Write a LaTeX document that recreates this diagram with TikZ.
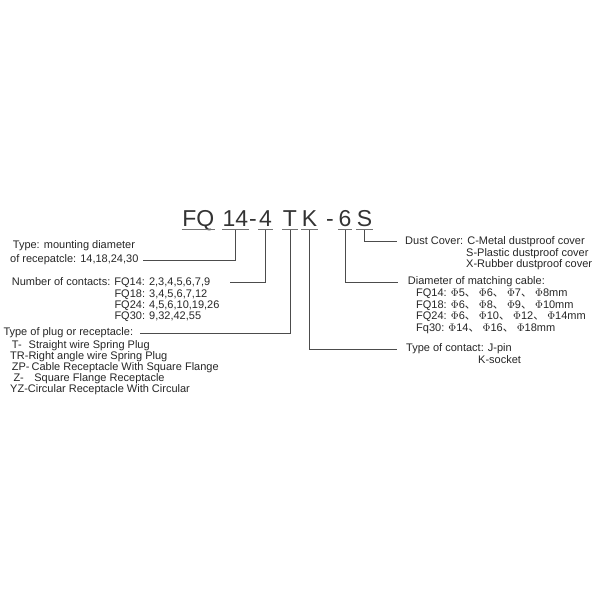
\documentclass[tikz,border=0pt]{standalone}
\usepackage{fontspec}
\setmainfont{Liberation Sans}
\newfontfamily\cjk{Noto Sans CJK SC}
\newcommand{\dunhao}{{\cjk 、}}

\begin{document}
\begin{tikzpicture}[x=1pt, y=-1pt,
		txt/.style={anchor=mid west, inner sep=0pt, text=black!85, font=\fontsize{11}{13}\selectfont},
		code/.style={anchor=base, inner xsep=0.5pt, inner ysep=0pt, text depth=2.6pt, text=black!80, font=\fontsize{23}{26}\selectfont},
		uline/.style={line width=0.6pt, draw=black!55},
		lead/.style={line width=0.6pt, draw=black!70}]
		%%%%% START %%%%%
		
		\useasboundingbox (0, 0) rectangle (600, 600);
		
		% the code
		\node[code] (fq) at (198.3, 226.7) {FQ};
		\node[code] (num) at (235.5, 226.7) {14};
		\node[code] (dasha) at (253, 226.7) {-};
		\node[code] (cnt) at (265.5, 226.7) {4};
		\node[code] (plug) at (290, 226.7) {T};
		\node[code] (pin) at (309.5, 226.7) {K};
		\node[code] (dashb) at (330, 226.7) {-};
		\node[code] (cab) at (345, 226.7) {6};
		\node[code] (cov) at (364.5, 226.7) {S};
		
		\draw[uline] (fq.south west) -- (fq.south east);
		\draw[uline] (num.south west) -- (num.south east);
		\draw[uline] (cnt.south west) -- (cnt.south east);
		\draw[uline] (plug.south west) -- (plug.south east);
		\draw[uline] (pin.south west) -- (pin.south east);
		\draw[uline] (cab.south west) -- (cab.south east);
		\draw[uline] (cov.south west) -- (cov.south east);
		
		% left side
		\node[txt] (mounta) at (12.7, 245.7) {Type: mounting diameter};
		\node[txt] (mount) at (10, 260) {of recepatcle: 14,18,24,30};
		
		\node[txt] (contacts) at (11.7, 282.5) {Number of contacts: FQ14: 2,3,4,5,6,7,9};
		\node[txt] (ctb) at (114.3, 294.5) {FQ18: 3,4,5,6,7,12};
		\node[txt] (ctc) at (114.3, 305.7) {FQ24: 4,5,6,10,19,26};
		\node[txt] (ctd) at (114.3, 316.7) {FQ30: 9,32,42,55};
		
		\node[txt] (plugtype) at (3.3, 332.8) {Type of plug or receptacle:};
		\node[txt] (pta) at (11.7, 345.7) {T-\hspace{7pt}Straight wire Spring Plug};
		\node[txt] (ptb) at (10, 357) {TR-Right angle wire Spring Plug};
		\node[txt] (ptc) at (11.7, 367.8) {ZP-\hspace{2pt}Cable Receptacle With Square Flange};
		\node[txt] (ptd) at (13.3, 378.7) {Z-\hspace{10.5pt}Square Flange Receptacle};
		\node[txt] (pte) at (10, 389.5) {YZ-Circular Receptacle With Circular};
		
		% right side
		\node[txt] (dust) at (405, 241.5) {Dust Cover: C-Metal dustproof cover};
		\node[txt] (dustb) at (466, 253.5) {S-Plastic dustproof cover};
		\node[txt] (dustc) at (466, 265) {X-Rubber dustproof cover};
		
		\node[txt] (cable) at (407.7, 282) {Diameter of matching cable:};
		\node[txt] (cba) at (416, 294) {FQ14: $\Phi$5\dunhao\ $\Phi$6\dunhao\ $\Phi$7\dunhao\ $\Phi$8mm};
		\node[txt] (cbb) at (416, 305.5) {FQ18: $\Phi$6\dunhao\ $\Phi$8\dunhao\ $\Phi$9\dunhao\ $\Phi$10mm};
		\node[txt] (cbc) at (416, 317) {FQ24: $\Phi$6\dunhao\ $\Phi$10\dunhao\ $\Phi$12\dunhao\ $\Phi$14mm};
		\node[txt] (cbd) at (416, 328.5) {Fq30: $\Phi$14\dunhao\ $\Phi$16\dunhao\ $\Phi$18mm};
		
		\node[txt] (contact) at (406, 349) {Type of contact: J-pin};
		\node[txt] (contactb) at (478, 361) {K-socket};
		
		% leads
		\draw[lead, shorten >=4pt] (num.south) |- (mount.mid east);
		\draw[lead, shorten >=20pt] (cnt.south) |- (contacts.mid east);
		\draw[lead, shorten >=7pt] (plug.south) |- (plugtype.mid east);
		\draw[lead, shorten >=9pt] (pin.south) |- (contact.mid west);
		\draw[lead, shorten >=10pt] (cab.south) |- (cable.mid west);
		\draw[lead, shorten >=8pt] (cov.south) |- (dust.mid west);
		
		%%%%% END %%%%%
\end{tikzpicture}
\end{document}
